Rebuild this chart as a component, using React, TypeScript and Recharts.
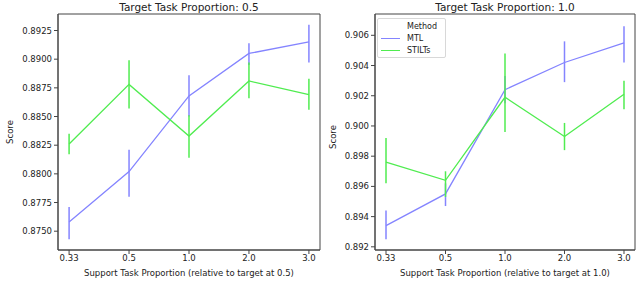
import { LineChart, Line, XAxis, YAxis, ErrorBar, ReferenceArea } from "recharts";

// x categories (support task proportion)
const proportions = ["0.33", "0.5", "1.0", "2.0", "3.0"];

// target 0.5
const mtlLeft = [0.8758, 0.8802, 0.8868, 0.8905, 0.8915];
const mtlLeftLow = [0.8743, 0.878, 0.885, 0.8895, 0.8897];
const mtlLeftHigh = [0.8771, 0.8821, 0.8886, 0.8914, 0.893];
const stiltsLeft = [0.8826, 0.8878, 0.8833, 0.8881, 0.8869];
const stiltsLeftLow = [0.8817, 0.8857, 0.8814, 0.8866, 0.8856];
const stiltsLeftHigh = [0.8835, 0.8899, 0.8851, 0.8897, 0.8883];

// target 1.0
const mtlRight = [0.8934, 0.8955, 0.9024, 0.9042, 0.9055];
const mtlRightLow = [0.8925, 0.8947, 0.9015, 0.9029, 0.9042];
const mtlRightHigh = [0.8944, 0.8962, 0.9033, 0.9056, 0.9066];
const stiltsRight = [0.8976, 0.8964, 0.9019, 0.8993, 0.9021];
const stiltsRightLow = [0.8962, 0.8953, 0.8996, 0.8984, 0.9011];
const stiltsRightHigh = [0.8992, 0.897, 0.9048, 0.9002, 0.903];

const leftTicks = [0.875, 0.8775, 0.88, 0.8825, 0.885, 0.8875, 0.89, 0.8925];
const rightTicks = [0.892, 0.894, 0.896, 0.898, 0.9, 0.902, 0.904, 0.906];

const MTL_COLOR = "#8484ff";
const STILTS_COLOR = "#50ec50";
const AXIS = "#444";
const FONT = "DejaVu Sans";

function buildRows(
	mtl: number[], mtlLow: number[], mtlHigh: number[],
	st: number[], stLow: number[], stHigh: number[],
) {
	return proportions.map((p, i) => ({
		idx: i,
		p,
		mtl: mtl[i],
		mtlErr: [mtl[i] - mtlLow[i], mtlHigh[i] - mtl[i]],
		stilts: st[i],
		stiltsErr: [st[i] - stLow[i], stHigh[i] - st[i]],
	}));
}

const tickStyle = { fontSize: 8.5, fill: "#222", fontFamily: FONT };

function Panel(props: {
	rows: ReturnType<typeof buildRows>;
	domain: [number, number];
	ticks: number[];
	digits: number;
	margin: { top: number; right: number; bottom: number; left: number };
	width: number;
	xLabel: string;
}) {
	const { rows, domain, ticks, digits, margin, width, xLabel } = props;
	return (
		<LineChart width={width} height={291} data={rows} margin={margin}>
			<XAxis
				dataKey="idx"
				type="number"
				domain={[-0.185, 4.185]}
				ticks={[0, 1, 2, 3, 4]}
				tickFormatter={(v: number) => proportions[v] ?? ""}
				tick={tickStyle}
				tickSize={4}
				tickMargin={1}
				height={30}
				stroke={AXIS}
				label={{ value: xLabel, position: "insideBottom", offset: 4, style: tickStyle }}
			/>
			<YAxis
				domain={domain}
				ticks={ticks}
				type="number"
				allowDataOverflow
				tick={tickStyle}
				tickSize={4}
				tickMargin={2}
				width={50}
				stroke={AXIS}
				tickFormatter={(v: number) => v.toFixed(digits)}
			/>
			<ReferenceArea
				x1={-0.185}
				x2={4.185}
				y1={domain[0]}
				y2={domain[1]}
				fill="none"
				fillOpacity={0}
				stroke={AXIS}
				strokeWidth={1}
			/>
			<Line
				dataKey="mtl"
				stroke={MTL_COLOR}
				strokeWidth={1.3}
				dot={false}
				isAnimationActive={false}
			>
				<ErrorBar dataKey="mtlErr" width={0} stroke={MTL_COLOR} strokeWidth={1.5} direction="y" />
			</Line>
			<Line
				dataKey="stilts"
				stroke={STILTS_COLOR}
				strokeWidth={1.3}
				dot={false}
				isAnimationActive={false}
			>
				<ErrorBar dataKey="stiltsErr" width={0} stroke={STILTS_COLOR} strokeWidth={1.5} direction="y" />
			</Line>
		</LineChart>
	);
}

const textBase: React.CSSProperties = {
	position: "absolute",
	fontFamily: FONT,
	color: "#222",
	whiteSpace: "nowrap",
	lineHeight: 1,
};

export default function App() {
	const leftRows = buildRows(mtlLeft, mtlLeftLow, mtlLeftHigh, stiltsLeft, stiltsLeftLow, stiltsLeftHigh);
	const rightRows = buildRows(mtlRight, mtlRightLow, mtlRightHigh, stiltsRight, stiltsRightLow, stiltsRightHigh);

	return (
		<div style={{ position: "absolute", left: 0, top: 0, width: 640, height: 291, background: "#fff", overflow: "hidden" }}>
			<div style={{ position: "absolute", left: 0, top: 0 }}>
				<Panel
					rows={leftRows}
					domain={[0.87336, 0.89394]}
					ticks={leftTicks}
					digits={4}
					margin={{ top: 14, right: 10, bottom: 11, left: 8 }}
					width={330}
					xLabel="Support Task Proportion (relative to target at 0.5)"
				/>
			</div>
			<div style={{ position: "absolute", left: 320, top: 0 }}>
				<Panel
					rows={rightRows}
					domain={[0.89179, 0.90741]}
					ticks={rightTicks}
					digits={3}
					margin={{ top: 14, right: 5, bottom: 11, left: 5 }}
					width={320}
					xLabel="Support Task Proportion (relative to target at 1.0)"
				/>
			</div>

			<div style={{ ...textBase, fontSize: 10.5, left: 58, width: 262, textAlign: "center", top: 2 }}>
				Target Task Proportion: 0.5
			</div>
			<div style={{ ...textBase, fontSize: 10.5, left: 375, width: 260, textAlign: "center", top: 2 }}>
				Target Task Proportion: 1.0
			</div>

			<div style={{ ...textBase, fontSize: 8.5, left: 10, top: 132, transform: "translate(-50%, -50%) rotate(-90deg)" }}>
				Score
			</div>
			<div style={{ ...textBase, fontSize: 8.5, left: 333, top: 137, transform: "translate(-50%, -50%) rotate(-90deg)" }}>
				Score
			</div>

			{/* legend */}
			<div
				style={{
					position: "absolute",
					left: 377,
					top: 18,
					width: 67,
					height: 38,
					border: "1px solid #d8d8d8",
					borderRadius: 2,
					background: "rgba(255,255,255,0.8)",
					fontFamily: FONT,
					fontSize: 8,
					color: "#222",
				}}
			>
				<div style={{ position: "absolute", left: 29, top: 3 }}>Method</div>
				<div style={{ position: "absolute", left: 3, top: 19, width: 19, height: 1.3, background: MTL_COLOR }} />
				<div style={{ position: "absolute", left: 29, top: 15 }}>MTL</div>
				<div style={{ position: "absolute", left: 3, top: 31, width: 19, height: 1.3, background: STILTS_COLOR }} />
				<div style={{ position: "absolute", left: 29, top: 27 }}>STILTs</div>
			</div>
		</div>
	);
}
